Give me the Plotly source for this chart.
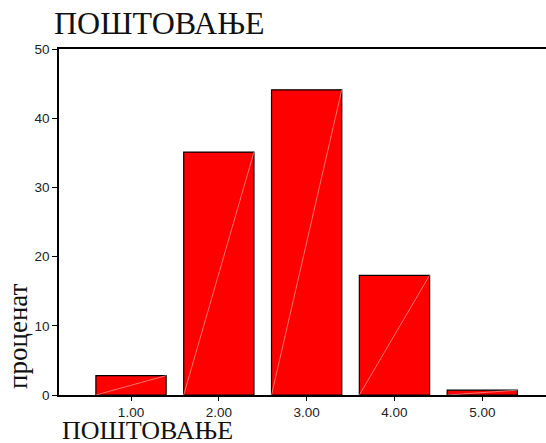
import plotly.graph_objects as go

categories = [1, 2, 3, 4, 5]
tick_labels = ["1.00", "2.00", "3.00", "4.00", "5.00"]
percent = [2.8, 35.1, 44.1, 17.3, 0.7]
title_text = "ПОШТОВАЊЕ"
x_title = "ПОШТОВАЊЕ"
y_title = "проценат"

W, H = 546, 443
L, R, T, B = 59, 0, 49, 48
pw = W - L - R
ph = H - T - B
bar_w = 0.8

def px_x(px):
    return (px - L) / pw

def px_y(py):
    return (H - B - py) / ph

fig = go.Figure()
fig.add_trace(go.Bar(
    x=categories, y=percent, width=bar_w,
    marker=dict(color="#ff0000", line=dict(color="#000000", width=1.2)),
    hoverinfo="skip",
))

# faint diagonal inside each bar (bottom-left to top-right)
dx, dy = [], []
for c, v in zip(categories, percent):
    dx += [c - bar_w / 2, c + bar_w / 2, None]
    dy += [0, v, None]
fig.add_trace(go.Scatter(
    x=dx, y=dy, mode="lines",
    line=dict(color="rgba(255,190,190,0.85)", width=0.7),
    hoverinfo="skip",
))

tick_font = dict(family="Liberation Sans, Arial, sans-serif", size=13.5, color="#222222")
serif = "Liberation Serif, Times New Roman, serif"

fig.update_layout(
    width=W, height=H,
    margin=dict(l=L, r=R, t=T, b=B, pad=0),
    paper_bgcolor="white", plot_bgcolor="white",
    showlegend=False,
    xaxis=dict(
        range=[1 - 72 / 87.8, 5 + (546 - 482.3) / 87.8],
        tickvals=categories, ticktext=tick_labels,
        showline=True, linecolor="#000000", linewidth=1.5, mirror=True,
        ticks="outside", ticklen=4, tickcolor="#000000", tickwidth=1,
        showgrid=False, zeroline=False, tickfont=tick_font, automargin=False,
    ),
    yaxis=dict(
        range=[0, 50], tickvals=[0, 10, 20, 30, 40, 50],
        showline=True, linecolor="#000000", linewidth=1.5,
        ticks="outside", ticklen=5, tickcolor="#000000", tickwidth=1,
        showgrid=False, zeroline=False, tickfont=tick_font, automargin=False,
    ),
    annotations=[
        dict(text=title_text, xref="paper", yref="paper",
             x=px_x(53), y=px_y(34 - 0.35 * 32), xanchor="left", yanchor="middle",
             showarrow=False, borderpad=0, font=dict(family=serif, size=32, color="#111111")),
        dict(text=x_title, xref="paper", yref="paper",
             x=px_x(61), y=px_y(440 - 0.35 * 26), xanchor="left", yanchor="middle",
             showarrow=False, borderpad=0, font=dict(family=serif, size=26, color="#111111")),
        dict(text=y_title, xref="paper", yref="paper", textangle=-90,
             x=px_x(18), y=px_y(336), xanchor="center", yanchor="middle",
             showarrow=False, borderpad=0, font=dict(family=serif, size=27, color="#111111")),
    ],
)

fig.write_html("out.html", config={"displayModeBar": False},
               post_script="document.body.style.margin='0';document.body.style.padding='0';")
